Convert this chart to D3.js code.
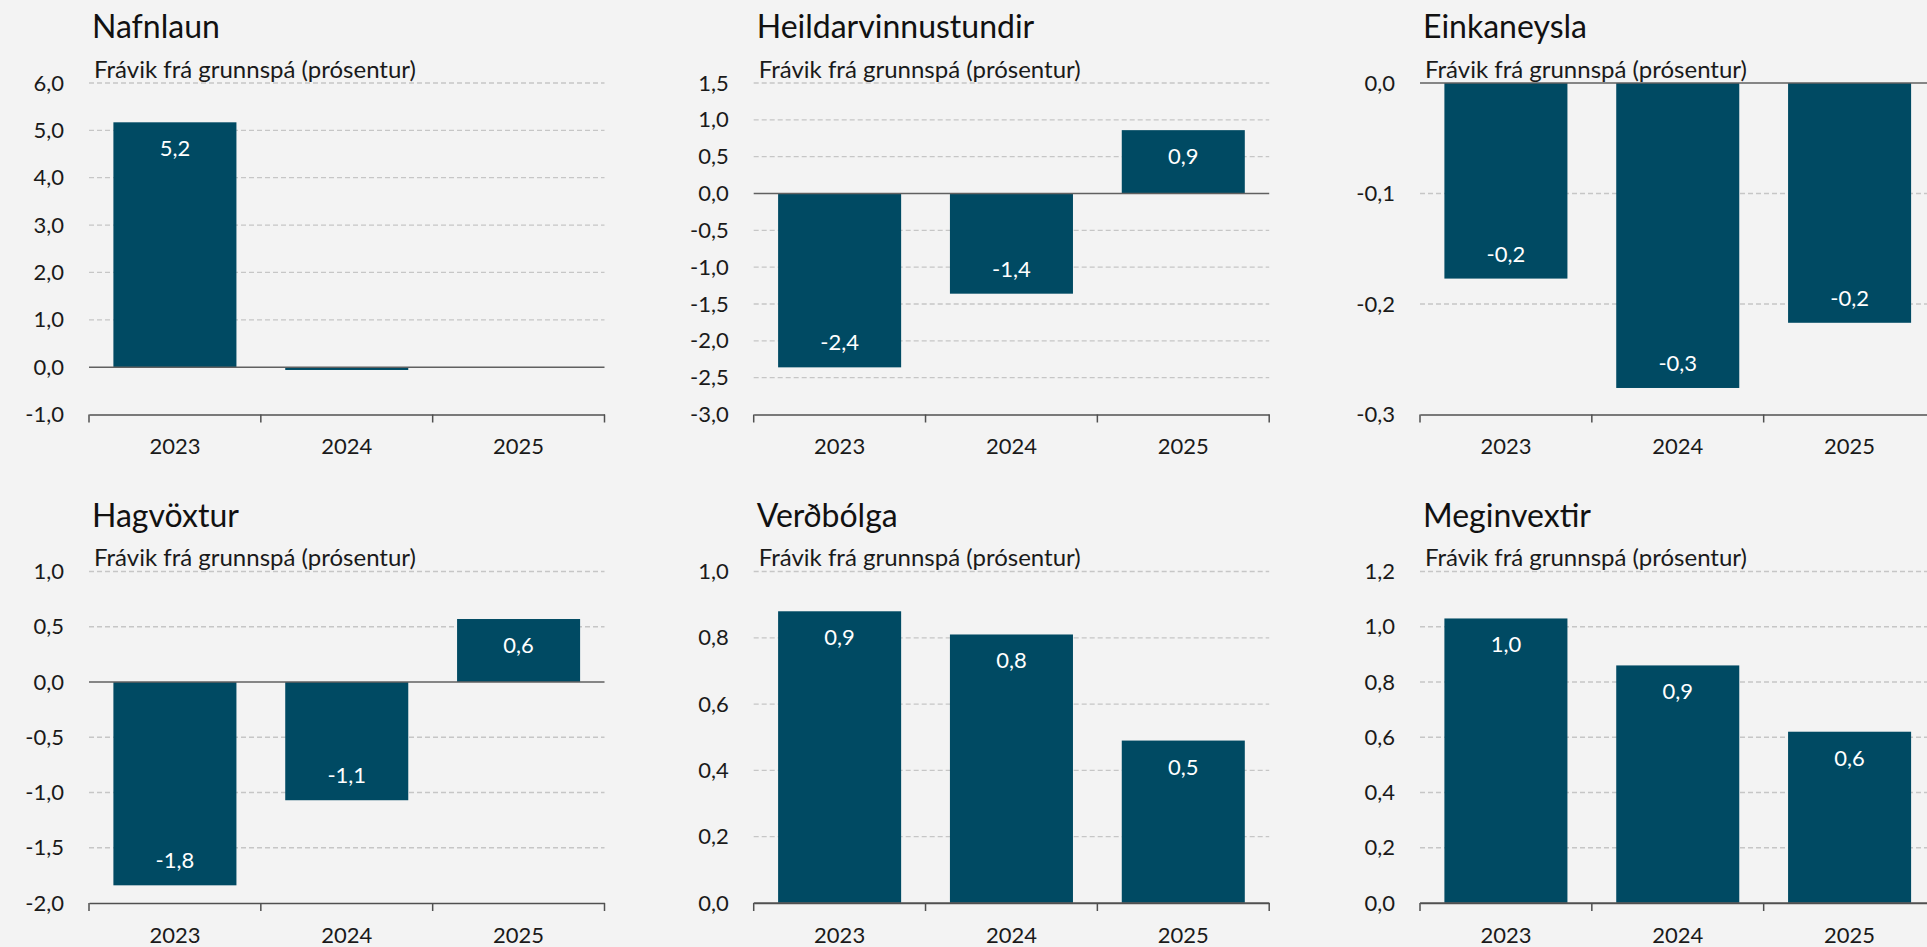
<!DOCTYPE html>
<html>
<head>
<meta charset="utf-8">
<script src="https://cdn.jsdelivr.net/npm/d3@7"></script>
<style>
  body { margin: 0; background: #f3f3f3; overflow: hidden; }
  text { font-family: Lato, "Open Sans", sans-serif; }
</style>
</head>
<body>
<div id="chart"></div>
<script>
const years = ["2023", "2024", "2025"]
const subtitle = "Frávik frá grunnspá (prósentur)"

const titles = ["Nafnlaun", "Heildarvinnustundir", "Einkaneysla", "Hagvöxtur", "Verðbólga", "Meginvextir"]

// frávik frá grunnspá, prósentur
const nafnlaun = [5.17, -0.06, 0]
const heildarvinnustundir = [-2.36, -1.36, 0.86]
const einkaneysla = [-0.177, -0.276, -0.217]
const hagvoxtur = [-1.84, -1.07, 0.57]
const verdbolga = [0.88, 0.81, 0.49]
const meginvextir = [1.03, 0.86, 0.62]

// y ticks for each panel
const ticksNafnlaun = [-1, 0, 1, 2, 3, 4, 5, 6]
const ticksHeild = [-3, -2.5, -2, -1.5, -1, -0.5, 0, 0.5, 1, 1.5]
const ticksEinka = [-0.3, -0.2, -0.1, 0]
const ticksHag = [-2, -1.5, -1, -0.5, 0, 0.5, 1]
const ticksVerd = [0, 0.2, 0.4, 0.6, 0.8, 1]
const ticksMegin = [0, 0.2, 0.4, 0.6, 0.8, 1, 1.2]

const panels = [
  {title: titles[0], values: nafnlaun, ticks: ticksNafnlaun},
  {title: titles[1], values: heildarvinnustundir, ticks: ticksHeild},
  {title: titles[2], values: einkaneysla, ticks: ticksEinka},
  {title: titles[3], values: hagvoxtur, ticks: ticksHag},
  {title: titles[4], values: verdbolga, ticks: ticksVerd},
  {title: titles[5], values: meginvextir, ticks: ticksMegin}
]

const width = 1927, height = 947
const colLeft = [89, 753.7, 1420]
const rowTop = [83, 571.5]
const plotW = 515.5, plotH = 331.5
const barColor = "#004a63"

const locale = d3.formatLocale({decimal: ",", thousands: ".", grouping: [3], currency: ["", ""], minus: "-"})
const fmt = locale.format(".1f")

const svg = d3.select("#chart").append("svg")
    .attr("width", width)
    .attr("height", height)
    .style("background", "#f3f3f3")

panels.forEach((p, i) => {
  const left = colLeft[i % 3], top = rowTop[Math.floor(i / 3)]
  const g = svg.append("g").attr("transform", `translate(${left},${top})`)

  const x = d3.scaleBand().domain(years).range([0, plotW]).padding(0)
  const y = d3.scaleLinear().domain(d3.extent(p.ticks)).range([plotH, 0])
  const barW = x.bandwidth() * 0.716

  // title + subtitle
  g.append("text")
      .attr("x", 3).attr("y", -44.7)
      .attr("font-size", 32).attr("fill", "#111")
      .text(p.title)
  g.append("text")
      .attr("x", 5).attr("y", -5.5)
      .attr("font-size", 24).attr("fill", "#1a1a1a")
      .text(subtitle)

  // gridlines
  g.append("g").selectAll("line")
    .data(p.ticks.filter(t => t !== 0 && t !== y.domain()[0]))
    .join("line")
      .attr("x1", 0).attr("x2", plotW)
      .attr("y1", d => y(d)).attr("y2", d => y(d))
      .attr("stroke", "#c6c6c6")
      .attr("stroke-width", 1.3)
      .attr("stroke-dasharray", "5,3")

  // y axis labels
  g.append("g")
      .call(d3.axisLeft(y).tickValues(p.ticks).tickFormat(fmt).tickSize(0).tickPadding(25))
      .call(g => g.select(".domain").remove())
      .call(g => g.selectAll("text")
          .attr("font-family", "Lato, sans-serif")
          .attr("font-size", 22)
          .attr("fill", "#1a1a1a"))

  // bars
  g.append("g").selectAll("rect")
    .data(p.values.map((v, j) => ({year: years[j], v})))
    .join("rect")
      .attr("x", d => x(d.year) + (x.bandwidth() - barW) / 2)
      .attr("width", barW)
      .attr("y", d => y(Math.max(0, d.v)))
      .attr("height", d => Math.abs(y(d.v) - y(0)))
      .attr("fill", barColor)

  // zero line
  g.append("line")
      .attr("x1", 0).attr("x2", plotW)
      .attr("y1", y(0)).attr("y2", y(0))
      .attr("stroke", "#606060")
      .attr("stroke-width", 1.5)

  // x axis at bottom of plot
  const xg = g.append("g")
      .attr("transform", `translate(0,${plotH})`)
      .call(d3.axisBottom(x).tickSize(0).tickPadding(24))
  xg.select(".domain").attr("stroke", "#505050").attr("stroke-width", 1.5)
  xg.selectAll("text")
      .attr("font-family", "Lato, sans-serif")
      .attr("font-size", 22)
      .attr("fill", "#1a1a1a")
  xg.selectAll(".sep")
    .data(years.map(d => x(d)).concat([plotW]))
    .join("line")
      .attr("class", "sep")
      .attr("x1", d => d).attr("x2", d => d)
      .attr("y1", 0).attr("y2", 8)
      .attr("stroke", "#505050")
      .attr("stroke-width", 1.5)

  // value labels, inside end
  g.append("g").selectAll("text")
    .data(p.values.map((v, j) => ({year: years[j], v})).filter(d => Math.abs(d.v) >= 0.1))
    .join("text")
      .attr("x", d => x(d.year) + x.bandwidth() / 2)
      .attr("y", d => d.v >= 0 ? y(d.v) + 34 : y(d.v) - 17)
      .attr("text-anchor", "middle")
      .attr("font-size", 22)
      .attr("fill", "#fff")
      .text(d => fmt(d.v))
})
</script>
</body>
</html>
